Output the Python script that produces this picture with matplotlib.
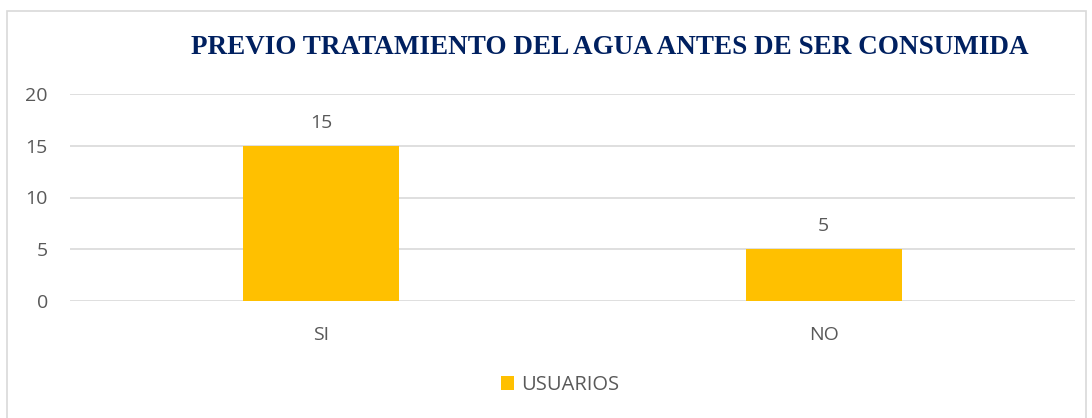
import matplotlib.pyplot as plt
from matplotlib.patches import Rectangle

# ======= DATA ===========
categorias = ["SI", "NO"]
usuarios = [15, 5]
serie = "USUARIOS"
titulo = "PREVIO TRATAMIENTO DEL AGUA ANTES DE SER CONSUMIDA"

W, H = 1092, 418
gris = "#595959"
oro = "#FFC000"

fig = plt.figure(figsize=(W / 100, H / 100), dpi=100)
fig.patch.set_facecolor("white")

# marco gris claro del grafico
fig.patches.append(Rectangle((7 / W, -0.05), 1079 / W, 1 - 11 / H + 0.05,
                             transform=fig.transFigure, fill=False,
                             edgecolor="#D9D9D9", linewidth=1.2))

# ======= AXES ===========
ax = fig.add_axes([70 / W, 1 - 301 / H, (1075 - 70) / W, (301 - 94) / H])
x = range(len(categorias))
bars = ax.bar(x, usuarios, width=0.31, color=oro, label=serie, zorder=3)

ax.set_xlim(-0.5, len(categorias) - 0.5)
ax.set_ylim(0, 20)
ax.set_yticks([0, 5, 10, 15, 20])
ax.set_xticks(list(x))
ax.set_xticklabels(categorias)
ax.grid(axis="y", color="#D9D9D9", linewidth=1.2, zorder=0)
for s in ax.spines.values():
    s.set_visible(False)
ax.tick_params(length=0, labelsize=14, labelcolor=gris)
ax.tick_params(axis="y", pad=16)
ax.tick_params(axis="x", pad=18)
for lab in ax.get_xticklabels() + ax.get_yticklabels():
    lab.set_fontfamily("Open Sans")

for b, v in zip(bars, usuarios):
    ax.annotate(str(v), (b.get_x() + b.get_width() / 2, v), xytext=(0, 10),
                textcoords="offset points", ha="center", va="bottom",
                fontsize=14, color=gris, fontfamily="Open Sans")

# ======= TITLE & LEGEND ===========
fig.text(610 / W, 1 - 48 / H, titulo, ha="center", va="center",
         fontsize=19.5, fontweight="bold", color="#002060",
         fontfamily="Liberation Serif")

fig.legend(handles=[bars], labels=[serie], loc="center",
           bbox_to_anchor=(560 / W, 1 - 385 / H), frameon=False,
           prop={"family": "Open Sans", "size": 14.5}, labelcolor=gris,
           handlelength=0.65, handleheight=0.65, handletextpad=0.35)

plt.savefig("out.png", dpi=100)
